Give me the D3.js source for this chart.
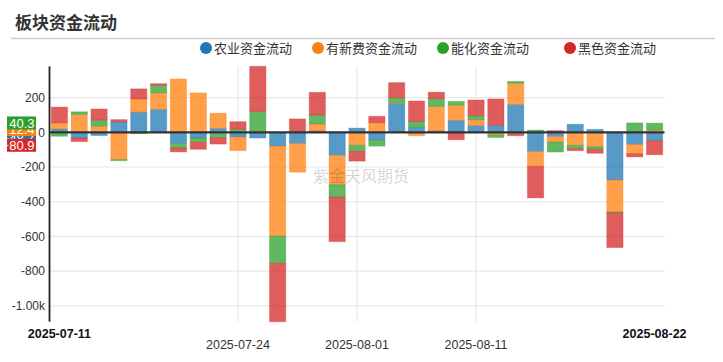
<!DOCTYPE html>
<html>
<head>
<meta charset="utf-8">
<script src="https://cdn.jsdelivr.net/npm/d3@7/dist/d3.min.js"></script>
<style>
  body { margin: 0; background: #fff; }
  text { font-family: "Liberation Sans", Arial, sans-serif; }
  .cjk { font-family: "Noto Sans CJK SC", sans-serif; }
</style>
</head>
<body>
<svg id="chart" width="723" height="362"></svg>
<script>
// trading days
const dates = ["2025-07-11","2025-07-14","2025-07-15","2025-07-16","2025-07-17","2025-07-18",
  "2025-07-21","2025-07-22","2025-07-23","2025-07-24","2025-07-25",
  "2025-07-28","2025-07-29","2025-07-30","2025-07-31","2025-08-01",
  "2025-08-04","2025-08-05","2025-08-06","2025-08-07","2025-08-08",
  "2025-08-11","2025-08-12","2025-08-13","2025-08-14","2025-08-15",
  "2025-08-18","2025-08-19","2025-08-20","2025-08-21","2025-08-22"];

// series values
const agri  = [19, -33, -19, 60, 116, 132, -65, -33, 23, -27, -33, -79, -65, 8, -133, 24,
  -45, 166, 29, 9, 69, 39, 41, 160, -111, -25, 46, 17, -275, -71, -48.7];
const newE  = [35, 103, 35, -157, 76, 95, 307, 227, 87, -79, 8, -519, -165, 40, -169, -75,
  55, 4, -20, 140, 87, 33, -16, 122, -85, -31, -75, -83, -184, -52, 12.4];
const chem  = [-23, 15, 35, -7, -8, 43, -25, -25, -31, 18, 112, -157, 0, 51, -71, -35,
  -35, 29, 33, 44, 22, 23, -14, 11, 13, -58, -19, -15, -5, 54, 40.3];
const black = [91, -21, 64, 13, 58, 10, -23, -40, -37, 43, 260, -336, 77, 131, -257, -56,
  37, 87, 118, 38, -43, 91, 151, -20, -182, 10, -12, -23, -200, -19, -80.9];

const seriesNames = ["农业资金流动", "有新费资金流动", "能化资金流动", "黑色资金流动"];
const colors = ["#1f77b4", "#ff7f0e", "#2ca02c", "#d62728"];
const yTicks = [200, 0, -200, -400, -600, -800, -1000];
const gridDates = ["2025-07-24", "2025-08-01", "2025-08-11"];
const edgeDates = ["2025-07-11", "2025-08-22"];

const keys = ["agri", "newE", "chem", "black"];
const table = dates.map((d, i) => ({date: d, agri: agri[i], newE: newE[i], chem: chem[i], black: black[i]}));

const svg = d3.select("#chart");
const plotL = 49.5, plotR = 664.5, plotT = 66.3, plotB = 321.7;

// title + separator
svg.append("text").attr("class", "cjk")
  .attr("x", 15).attr("y", 29)
  .attr("font-size", 17).attr("font-weight", "bold").attr("fill", "#333")
  .text("板块资金流动");
svg.append("line")
  .attr("x1", 11).attr("x2", 715).attr("y1", 38.5).attr("y2", 38.5)
  .attr("stroke", "#ccc").attr("stroke-width", 1.5);

// legend
const legendX = [206, 318, 443, 570];
const legend = svg.append("g").selectAll("g").data(seriesNames).join("g")
  .attr("transform", (d, i) => `translate(${legendX[i]},48)`);
legend.append("circle").attr("r", 6).attr("fill", (d, i) => colors[i]);
legend.append("text").attr("class", "cjk")
  .attr("x", 8).attr("dy", "0.36em")
  .attr("font-size", 13).attr("fill", "#333")
  .text(d => d);

// stack
const stacked = d3.stack().keys(keys).offset(d3.stackOffsetDiverging)(table);

const x = d3.scaleBand().domain(dates).range([plotL, plotR]).paddingInner(0.18).paddingOuter(0.09);
const y = d3.scaleLinear()
  .domain([d3.min(stacked, s => d3.min(s, d => d[0])), d3.max(stacked, s => d3.max(s, d => d[1]))])
  .range([plotB, plotT]);

// grid
svg.append("g").selectAll("line").data(yTicks).join("line")
  .attr("x1", plotL).attr("x2", plotR)
  .attr("y1", d => y(d)).attr("y2", d => y(d))
  .attr("stroke", "#e8e8e8").attr("stroke-width", 1.2);
svg.append("g").selectAll("line").data(gridDates).join("line")
  .attr("x1", d => x(d) + x.bandwidth() / 2).attr("x2", d => x(d) + x.bandwidth() / 2)
  .attr("y1", plotT).attr("y2", plotB)
  .attr("stroke", "#e8e8e8").attr("stroke-width", 1.2);

// y tick labels
const fmt = v => Math.abs(v) >= 1000 ? (v / 1000).toFixed(2) + "k" : String(v);
svg.append("g").selectAll("text").data(yTicks).join("text")
  .attr("x", 45).attr("y", d => y(d)).attr("dy", "0.36em")
  .attr("text-anchor", "end").attr("font-size", 12).attr("fill", "#333")
  .text(fmt);

// bars
svg.append("g").selectAll("g").data(stacked).join("g")
  .attr("fill", (d, i) => colors[i]).attr("stroke", (d, i) => colors[i])
  .selectAll("rect").data(d => d).join("rect")
  .attr("x", d => x(d.data.date))
  .attr("width", x.bandwidth())
  .attr("y", d => y(Math.max(d[0], d[1])))
  .attr("height", d => Math.abs(y(d[0]) - y(d[1])))
  .attr("fill-opacity", 0.75)
  .attr("stroke-opacity", 0.3)
  .attr("stroke-width", 1);

// zero line and y axis line
svg.append("line")
  .attr("x1", plotL).attr("x2", plotR).attr("y1", y(0)).attr("y2", y(0))
  .attr("stroke", "#333").attr("stroke-width", 2.2);
svg.append("line")
  .attr("x1", plotL).attr("x2", plotL).attr("y1", plotT).attr("y2", plotB)
  .attr("stroke", "#222").attr("stroke-width", 1.8);

// x labels
svg.append("g").selectAll("text").data(gridDates).join("text")
  .attr("x", d => x(d) + x.bandwidth() / 2).attr("y", 349)
  .attr("text-anchor", "middle").attr("font-size", 12.5).attr("fill", "#333")
  .text(d => d);
svg.append("g").selectAll("text").data(edgeDates).join("text")
  .attr("x", d => x(d) + x.bandwidth() / 2).attr("y", 338)
  .attr("text-anchor", "middle").attr("font-size", 12.5).attr("font-weight", "bold").attr("fill", "#111")
  .text(d => d);

// watermark
svg.append("text").attr("class", "cjk")
  .attr("x", 361).attr("y", 176).attr("dy", "0.36em")
  .attr("text-anchor", "middle").attr("font-size", 16).attr("fill", "#000").attr("fill-opacity", 0.18)
  .text("紫金天风期货");

// last value labels on the y axis
const last = table[table.length - 1];
const labels = keys.map((k, i) => ({v: last[k], c: colors[i], y: y(last[k])}));
const sorted = labels.slice().sort((a, b) => a.y - b.y);
for (let it = 0; it < 20; it++) {
  for (let j = 1; j < sorted.length; j++) {
    const gap = sorted[j].y - sorted[j - 1].y;
    if (gap < 6.5) {
      const push = (6.5 - gap) / 2;
      sorted[j].y += push; sorted[j - 1].y -= push;
    }
  }
}
const lab = svg.append("g").selectAll("g").data(labels).join("g")
  .attr("transform", d => `translate(7,${d.y - 1.5})`);
lab.append("rect").attr("x", 0).attr("y", -6.5).attr("width", 29).attr("height", 13)
  .attr("fill", d => d.c);
lab.append("text").attr("x", 27.5).attr("dy", "0.36em")
  .attr("text-anchor", "end").attr("font-size", 13).attr("fill", "#fff")
  .text(d => d3.format(".1f")(d.v));
</script>
</body>
</html>
